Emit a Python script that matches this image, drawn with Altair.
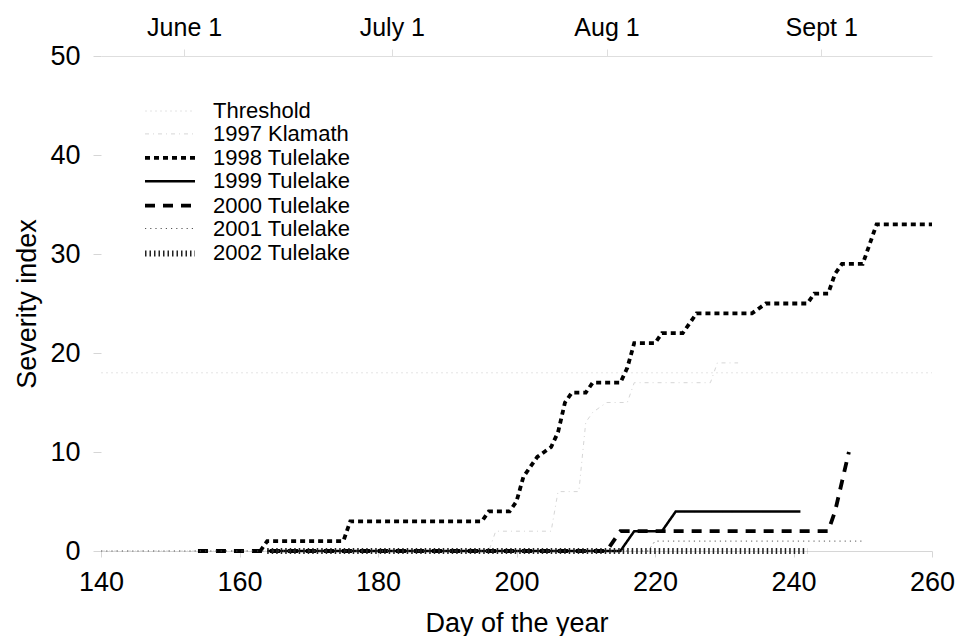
import altair as alt
import pandas as pd

# ---- data ----
series_names = ["Threshold", "1997 Klamath", "1998 Tulelake", "1999 Tulelake",
                "2000 Tulelake", "2001 Tulelake", "2002 Tulelake"]

threshold_days = [140, 260]
threshold_vals = [18, 18]

klamath_days = [140, 196, 197, 205, 206, 209, 210, 211, 213, 216, 217, 228, 229, 232]
klamath_vals = [0, 0, 2, 2, 6, 6, 13, 14, 15, 15, 17, 17, 19, 19]

t1998_days = [163, 164, 175, 176, 195, 196, 199, 200, 201, 202, 203, 204, 205, 206,
              207, 208, 210, 211, 215, 216, 217, 220, 221, 224, 225, 226, 234, 235,
              236, 242, 243, 245, 246, 247, 250, 251, 252, 260]
t1998_vals = [0, 1, 1, 3, 3, 4, 4, 5, 7.5, 8.5, 9.5, 10, 10.5, 12,
              15, 16, 16, 17, 17, 18.5, 21, 21, 22, 22, 23, 24, 24, 24.5,
              25, 25, 26, 26, 28, 29, 29, 31, 33, 33]

t1999_days = [164, 215, 217, 221, 223, 241]
t1999_vals = [0, 0, 2, 2, 4, 4]

t2000_days = [154, 213, 215, 245, 246, 247, 248]
t2000_vals = [0, 0, 2, 2, 4, 7, 10]

t2001_days = [140, 219, 220, 250]
t2001_vals = [0, 0, 1, 1]

t2002_days = [164, 242]
t2002_vals = [0, 0]

month_days = [152, 182, 213, 244]
month_labels = ["June 1", "July 1", "Aug 1", "Sept 1"]

x_ticks = [140, 160, 180, 200, 220, 240, 260]
y_ticks = [0, 10, 20, 30, 40, 50]

# ---- styles ----
colors = ["#e4e4e4", "#d6d6d6", "#000000", "#000000", "#000000", "#555555", "#222222"]
dashes = [[2, 3], [4, 4, 1, 4], [5, 4], [1, 0], [10, 8], [1.2, 4], [1.5, 3]]
widths = [1, 1, 3.8, 2.5, 3.8, 1, 6]

rows = []
for name, d, v in zip(series_names,
                      [threshold_days, klamath_days, t1998_days, t1999_days,
                       t2000_days, t2001_days, t2002_days],
                      [threshold_vals, klamath_vals, t1998_vals, t1999_vals,
                       t2000_vals, t2001_vals, t2002_vals]):
    for dd, vv in zip(d, v):
        rows.append({"series": name, "day": dd, "value": vv})
df = pd.DataFrame(rows)

FONT = "Liberation Sans"
xscale = alt.Scale(domain=[140, 260], nice=False, zero=False)
yscale = alt.Scale(domain=[0, 50], nice=False)

lines = alt.Chart(df).mark_line(strokeCap="butt", clip=False).encode(
    x=alt.X("day:Q", scale=xscale,
            axis=alt.Axis(values=x_ticks, title="Day of the year", grid=False,
                          domainColor="#d6d6d6", tickColor="#d6d6d6", tickSize=6,
                          labelPadding=12, labelFontSize=27, titleFontSize=27,
                          labelFlush=False, labelOverlap=False,
                          titlePadding=15, labelColor="#000", titleColor="#000",
                          titleFontWeight="normal", labelFont=FONT, titleFont=FONT)),
    y=alt.Y("value:Q", scale=yscale,
            axis=alt.Axis(values=y_ticks, title="Severity index", grid=False,
                          domain=False, tickColor="#d6d6d6", tickSize=8,
                          labelPadding=13, labelFontSize=27, titleFontSize=27,
                          labelFlush=False, labelOverlap=False,
                          titlePadding=8, labelColor="#000", titleColor="#000",
                          titleFontWeight="normal", labelFont=FONT, titleFont=FONT)),
    color=alt.Color("series:N", scale=alt.Scale(domain=series_names, range=colors),
                    sort=series_names,
                    legend=alt.Legend(title=None, orient="none", legendX=56, legendY=44,
                                      symbolType="M-2.5,0H2.5", symbolSize=400,
                                      labelFontSize=22, labelFont=FONT, labelColor="#000",
                                      labelOffset=30, rowPadding=0.9, padding=0)),
    strokeDash=alt.StrokeDash("series:N", scale=alt.Scale(domain=series_names, range=dashes),
                              sort=series_names, legend=alt.Legend(title=None)),
    strokeWidth=alt.StrokeWidth("series:N",
                                scale=alt.Scale(type="ordinal", domain=series_names, range=widths),
                                sort=series_names, legend=alt.Legend(title=None)),
    order="day:Q",
)

label_expr = " : ".join(
    [f"datum.value == {d} ? '{l}'" for d, l in zip(month_days, month_labels)]) + " : ''"

top = alt.Chart(pd.DataFrame({"day": month_days, "value": [50] * len(month_days)})).mark_point(
    opacity=0).encode(
    x=alt.X("day:Q", scale=xscale,
            axis=alt.Axis(orient="top", values=month_days, labelExpr=label_expr, title=None,
                          grid=False, domainColor="#dedede", tickColor="#dedede",
                          tickSize=7, labelPadding=9, labelFontSize=25, labelFont=FONT,
                          labelFlush=False, labelOverlap=False, labelColor="#000")),
    y=alt.Y("value:Q", scale=yscale, axis=None),
)

chart = alt.layer(lines, top).resolve_axis(x="independent", y="independent").properties(
    width=831, height=495,
    autosize=alt.AutoSizeParams(type="none"),
    padding={"left": 93, "top": 48, "right": 25, "bottom": 85},
).configure(background="white", view=alt.ViewConfig(strokeWidth=0))

chart.save("out.html", embed_options={"renderer": "svg", "actions": False})
